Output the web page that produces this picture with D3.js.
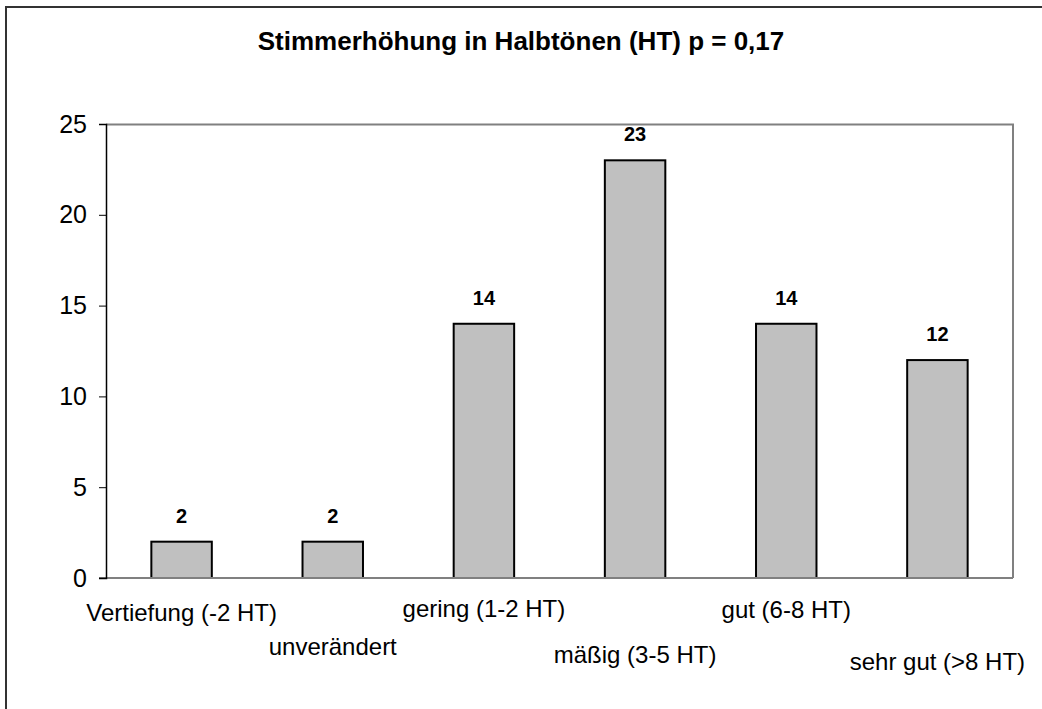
<!DOCTYPE html>
<html>
<head>
<meta charset="utf-8">
<script src="https://cdn.jsdelivr.net/npm/d3@7"></script>
<style>
	body { margin:0; background:#fff; }
	svg { display:block; font-family:Arial, "Liberation Sans", sans-serif; }
</style>
</head>
<body>
<svg width="1042" height="709"></svg>
<script>
(function() {

	// DATA
	var categories = ['Vertiefung (-2 HT)', 'unverändert', 'gering (1-2 HT)', 'mäßig (3-5 HT)', 'gut (6-8 HT)', 'sehr gut (>8 HT)'];
	var counts = [2, 2, 14, 23, 14, 12];
	var yTicks = [0, 5, 10, 15, 20, 25];
	var title = 'Stimmerhöhung in Halbtönen (HT) p = 0,17';

	// LAYOUT
	var margin = { top:124, left:106, right:29, bottom:131 };
	var W = 1042, H = 709;
	var width = W - margin.left - margin.right;
	var height = H - margin.top - margin.bottom;
	// staggered category label baselines (below axis), like the original
	var labelRows = [43, 77, 39, 85, 40, 92];

	var svg = d3.select('svg');

	// outer frame (right/bottom edge run off the picture)
	svg.append('rect')
		.attr('x', 6).attr('y', 7)
		.attr('width', 1100).attr('height', 800)
		.attr('fill', 'none')
		.attr('stroke', '#333')
		.attr('stroke-width', 2);

	svg.append('text')
		.attr('x', 521)
		.attr('y', 50)
		.attr('text-anchor', 'middle')
		.style('font-weight', 'bold')
		.style('font-size', '26px')
		.text(title);

	var g = svg.append('g')
		.attr('transform', 'translate(' + margin.left + ',' + margin.top + ')');

	var x = d3.scaleBand()
		.domain(categories)
		.range([0, width])
		.paddingInner(0.6)
		.paddingOuter(0.3);

	var y = d3.scaleLinear()
		.domain([0, 25])
		.range([height, 0]);

	// plot border (top + right)
	g.append('path')
		.attr('d', 'M0,0.5H' + width + 'V' + height)
		.attr('fill', 'none')
		.attr('stroke', '#808080')
		.attr('stroke-width', 2);

	// bars
	g.selectAll('.bar')
		.data(counts)
		.enter().append('rect')
		.attr('class', 'bar')
		.attr('x', function(d, i) { return x(categories[i]); })
		.attr('y', function(d) { return y(d); })
		.attr('width', x.bandwidth())
		.attr('height', function(d) { return height - y(d); })
		.attr('fill', '#c0c0c0')
		.attr('stroke', '#000')
		.attr('stroke-width', 2);

	// value labels
	g.selectAll('.val')
		.data(counts)
		.enter().append('text')
		.attr('class', 'val')
		.attr('x', function(d, i) { return x(categories[i]) + x.bandwidth() / 2; })
		.attr('y', function(d) { return y(d) - 19; })
		.attr('text-anchor', 'middle')
		.style('font-weight', 'bold')
		.style('font-size', '20px')
		.text(function(d) { return d; });

	// x axis line
	g.append('line')
		.attr('x1', -7).attr('x2', width)
		.attr('y1', height).attr('y2', height)
		.attr('stroke', '#808080')
		.attr('stroke-width', 2);

	// y axis
	var yAxis = g.append('g')
		.call(d3.axisLeft(y).tickValues(yTicks).tickSize(7).tickPadding(12));
	yAxis.select('.domain').attr('stroke', '#000').attr('stroke-width', 1.5);
	yAxis.selectAll('.tick line').attr('stroke', '#000');
	yAxis.selectAll('.tick text')
		.attr('fill', '#000')
		.style('font-size', '25px')
		.style('font-family', 'Arial, "Liberation Sans", sans-serif');

	// category labels
	g.selectAll('.cat')
		.data(categories)
		.enter().append('text')
		.attr('class', 'cat')
		.attr('x', function(d) { return x(d) + x.bandwidth() / 2; })
		.attr('y', function(d, i) { return height + labelRows[i]; })
		.attr('text-anchor', 'middle')
		.style('font-size', '24px')
		.text(function(d) { return d; });

})()
</script>
</body>
</html>
